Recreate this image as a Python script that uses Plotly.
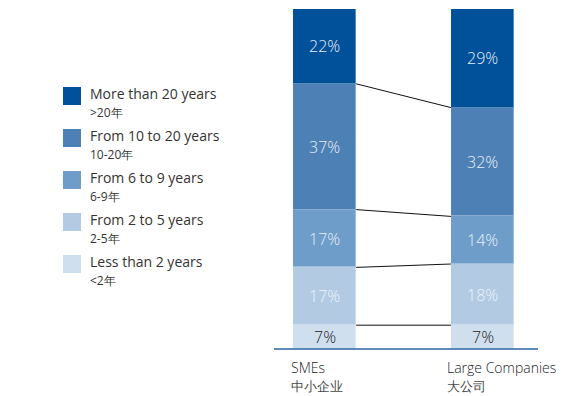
import plotly.graph_objects as go

# Company tenure mix, percentages per group (bottom segment first)
groups = ["SMEs", "Large Companies"]
group_labels_en = ["SMEs", "Large Companies"]
group_labels_zh = ["中小企业", "大公司"]
segments_en = ["Less than 2 years", "From 2 to 5 years", "From 6 to 9 years",
               "From 10 to 20 years", "More than 20 years"]
segments_zh = ["<2年", "2-5年", "6-9年", "10-20年", ">20年"]
sme_values = [7, 17, 17, 37, 22]
large_values = [7, 18, 14, 32, 29]
colors = ["#cfdfee", "#b2cbe3", "#6d9dc8", "#4d80b4", "#00509a"]
text_colors = ["#222222", "#eef3f9", "#e8eff7", "#e8eff7", "#e8eff7"]

FONT = "Open Sans"
bar_width = 0.4
xs = [0, 1]
series = [sme_values, large_values]

W, H = 566, 396
plot_l, plot_r, plot_t, plot_b = 274, 28, 9, 47
pw, ph = W - plot_l - plot_r, H - plot_t - plot_b


def px_to_paper(x, y):
    return (x - plot_l) / pw, 1 - (y - plot_t) / ph


fig = go.Figure()

for i, name in enumerate(segments_en):
    vals = [sme_values[i], large_values[i]]
    fig.add_trace(go.Bar(
        x=xs, y=vals, width=bar_width, name=name,
        marker=dict(color=colors[i], line=dict(width=1, color="rgba(255,255,255,0.35)")),
        hoverinfo="skip", showlegend=False,
    ))

# Percentage labels centred in each stacked segment
for j, vals in enumerate(series):
    base = 0
    for i, v in enumerate(vals):
        fig.add_annotation(x=xs[j], y=base + v / 2, xref="x", yref="y",
                           text=f"{v}%", showarrow=False,
                           font=dict(family=FONT, size=16, color=text_colors[i], weight=300))
        base += v

# Connector lines between the segment boundaries of the two bars
cum_s, cum_l = 0, 0
for i in range(len(segments_en) - 1):
    cum_s += sme_values[i]
    cum_l += large_values[i]
    fig.add_trace(go.Scatter(
        x=[xs[0] + bar_width / 2, xs[1] - bar_width / 2], y=[cum_s, cum_l],
        mode="lines", line=dict(color="#111111", width=1),
        hoverinfo="skip", showlegend=False,
    ))

# Category labels under the baseline: English line over the Chinese line
label_pos = [(290, 357), (446, 357)]
for j, (lx, ly) in enumerate(label_pos):
    ax, ay = px_to_paper(lx, ly)
    fig.add_annotation(x=ax, y=ay, xref="paper", yref="paper",
                       text=f"{group_labels_en[j]}<br><span style='font-size:13px;color:#4a4a4a'>{group_labels_zh[j]}</span>",
                       showarrow=False, xanchor="left", yanchor="top", align="left",
                       borderpad=0,
                       font=dict(family=FONT, size=14, color="#222222", weight=300))

# Legend drawn as swatches with two-line labels, top entry = top segment
legend_top = 87
step = 42
for k, i in enumerate(reversed(range(len(segments_en)))):
    y0 = legend_top + k * step
    x0p, y0p = px_to_paper(63, y0)
    x1p, y1p = px_to_paper(81, y0 + 18)
    fig.add_shape(type="rect", xref="paper", yref="paper",
                  x0=x0p, x1=x1p, y0=y1p, y1=y0p,
                  fillcolor=colors[i], line=dict(width=0))
    tx, ty = px_to_paper(88, y0 - 5)
    fig.add_annotation(x=tx, y=ty, xref="paper", yref="paper",
                       text=f"{segments_en[i]}<br><span style='font-size:12px'>{segments_zh[i]}</span>",
                       showarrow=False, xanchor="left", yanchor="top", align="left",
                       font=dict(family=FONT, size=14, color="#333333"))

# Baseline under the bars
fig.add_shape(type="line", xref="paper", yref="paper", x0=0, x1=1, y0=0, y1=0,
              line=dict(color="#2a64a6", width=1.5))

fig.update_layout(
    width=W, height=H, autosize=False,
    barmode="stack", bargap=0,
    margin=dict(l=plot_l, r=plot_r, t=plot_t, b=plot_b),
    plot_bgcolor="white", paper_bgcolor="white",
    xaxis=dict(range=[-0.32, 1.351], showticklabels=False, showgrid=False,
               zeroline=False, showline=False, ticks="", fixedrange=True),
    yaxis=dict(range=[0, 100], showticklabels=False, showgrid=False,
               zeroline=False, showline=False, ticks="", fixedrange=True),
)

fig.write_html("out.html")
